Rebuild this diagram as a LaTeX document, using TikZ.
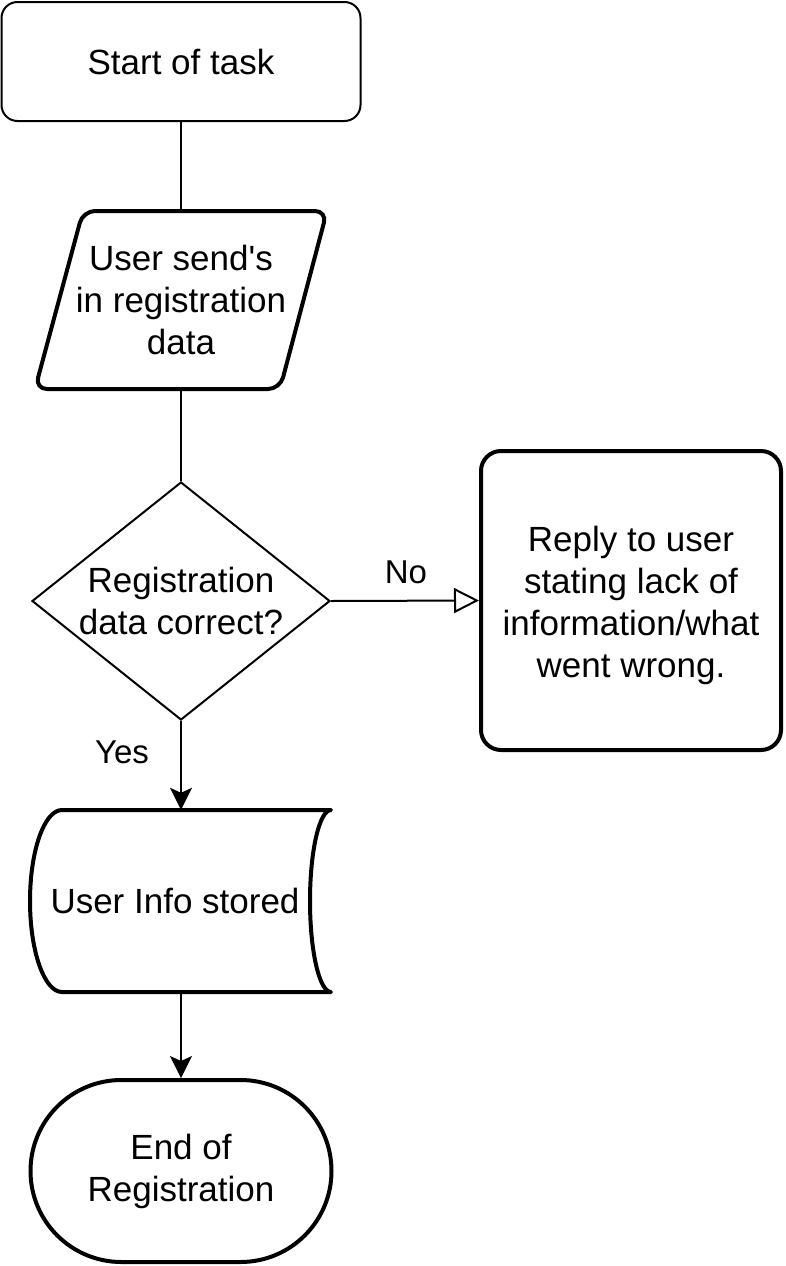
\documentclass[tikz,border=0pt]{standalone}
\usepackage{fontspec}
\setmainfont{Liberation Sans}
\usetikzlibrary{shapes.geometric,shapes.misc,arrows.meta}

\begin{document}
\begin{tikzpicture}[x=1pt,y=-1pt]
        \tikzstyle{arrow}=[-{Stealth[length=22pt,width=22pt,inset=5pt]}];
        \tikzstyle{openarrow}=[-{Triangle[open,length=25pt,width=25pt]}];
        \tikzstyle{thinline}=[line width=2pt];
        \tikzstyle{thickline}=[line width=4pt];
        \tikzstyle{label}=[font=\fontsize{33}{40}\selectfont];
        \tikzset{every node/.style={font=\fontsize{35}{42}\selectfont, align=center, inner sep=0pt}}
        \useasboundingbox (0,0) rectangle (786,1266);

        \node (v1) at (181,61.5) [draw, thinline, rounded corners=16pt, minimum width=359pt, minimum height=119pt] {Start of task};

        \node (v2) at (181,300) [minimum width=200pt, minimum height=178pt] {User send\textquotesingle s\\in registration\\data};
        \draw [thickline, rounded corners=12pt] (83,211) -- (327,211) -- (280,389) -- (35,389) -- cycle;
        \draw [thinline] (v1.south) -- (v2.north);

        \node (v3) at (181,601) [draw, thinline, diamond, aspect=1.25, minimum width=298pt, minimum height=238pt] {Registration\\data correct?};
        \draw [thinline] (v2.south) -- (v3.north);

        \node (v4) at (631,600.5) [draw, thickline, rounded corners=20pt, minimum width=300pt, minimum height=299pt] {\raisebox{-6pt}[\height][\depth]{\begin{tabular}{@{}c@{}}Reply to user\\stating lack of\\information/what\\went wrong.\end{tabular}}};
        \draw [thinline, openarrow] (v3.east) -- (v4.west);
        \node (no) at (406,572) [label] {No};

        \node (v5) at (181,901) [minimum width=301pt, minimum height=182pt] {\hspace*{-12pt}User Info stored};
        \draw [thickline, line join=round] (62,810) -- (331,810)
            .. controls (319.4,810) and (310,850.8) .. (310,901)
            .. controls (310,951.2) and (319.4,992) .. (331,992)
            -- (62,992)
            .. controls (44.3,992) and (30,951.2) .. (30,901)
            .. controls (30,850.8) and (44.3,810) .. (62,810) -- cycle;
        \draw [thinline, arrow] (v3.south) -- (v5.north);
        \node (yes) at (122,752) [label] {Yes};

        \node (v6) at (181,1171) [draw, thickline, rounded rectangle, minimum width=301pt, minimum height=182pt] {End of\\Registration};
        \draw [thinline, arrow] (v5.south) -- (v6.north);
    \end{tikzpicture}
\end{document}
